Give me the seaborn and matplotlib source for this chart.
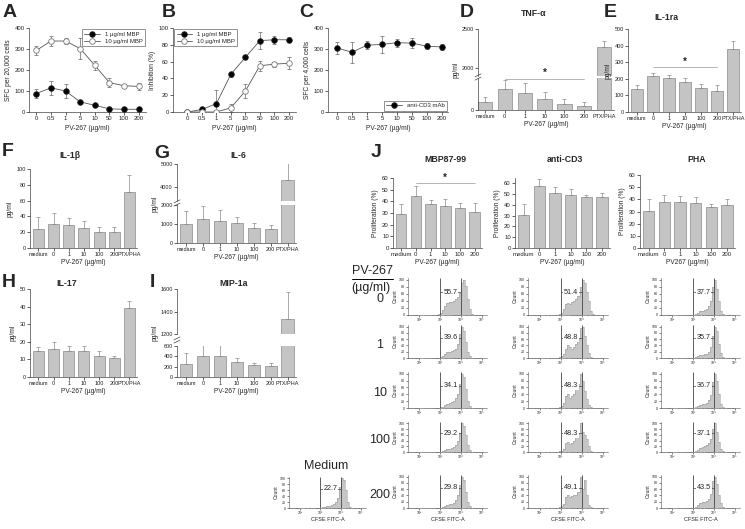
import numpy as np
import matplotlib
matplotlib.use("Agg")
import matplotlib.pyplot as plt
from matplotlib.lines import Line2D
from matplotlib.ticker import FixedLocator, MaxNLocator
import seaborn as sns

# ------------------------------------------------------------------
# data
# ------------------------------------------------------------------
dose_labels = ["0", "0.5", "1", "5", "10", "50", "100", "200"]

# A: ELISPOT, SFC per 20,000 cells
a_mbp1 = [88, 115, 100, 48, 32, 15, 13, 13]
a_mbp1_err = [22, 35, 32, 5, 5, 3, 3, 3]
a_mbp10 = [293, 338, 338, 302, 222, 140, 125, 122]
a_mbp10_err = [22, 25, 15, 50, 22, 20, 5, 15]

# B: inhibition (%)
b_mbp1 = [0, 3, 10, 45, 65, 85, 86, 86]
b_mbp1_err = [0, 2, 16, 3, 2, 10, 5, 3]
b_mbp10 = [0, 0, 0, 5, 25, 55, 57, 58]
b_mbp10_err = [0, 0, 0, 5, 8, 6, 3, 7]

# C: anti-CD3, SFC per 4,000 cells
c_cd3 = [305, 285, 318, 322, 330, 328, 313, 310]
c_cd3_err = [30, 50, 20, 40, 20, 25, 15, 15]

cyt_labels = ["medium", "0", "1", "10", "100", "200", "PTX/PHA"]
tnf = [330, 850, 690, 450, 245, 160, 2270]
tnf_err = [200, 370, 410, 280, 200, 170, 80]
il1ra = [140, 215, 205, 180, 145, 125, 380]
il1ra_err = [25, 20, 15, 25, 25, 35, 45]
il1b = [24, 31, 29, 25, 20, 20, 71]
il1b_err = [15, 13, 9, 9, 6, 6, 21]
il6 = [1000, 1260, 1150, 1050, 780, 760, 4300]
il6_err = [700, 700, 590, 320, 250, 200, 800]
il17 = [15, 16, 15, 14.5, 12, 11, 39]
il17_err = [2, 4, 2.5, 3, 3, 1, 4]
mip1a = [260, 400, 400, 290, 230, 220, 1330]
mip1a_err = [200, 250, 220, 70, 50, 50, 240]

prolif_labels = ["medium", "0", "1", "10", "100", "200"]
prolif_mbp = [29.5, 45, 38, 36, 34, 30.5]
prolif_mbp_err = [8, 8, 3.5, 6, 5, 8]
prolif_cd3 = [31, 58, 51, 49.5, 47.5, 47.5]
prolif_cd3_err = [10, 6, 5.5, 5.5, 1.5, 3.5]
prolif_pha = [30.5, 38, 38, 37, 33.5, 35]
prolif_pha_err = [9.5, 5.5, 5, 5, 2.5, 5]

# CFSE histograms: counts per log10 bin (2.9 ... 4.6)
flow_doses = ["0", "1", "10", "100", "200"]
hist_edges = [2.9, 3.0, 3.1, 3.2, 3.3, 3.4, 3.5, 3.6, 3.7, 3.8, 3.9,
              4.0, 4.1, 4.2, 4.3, 4.4, 4.5, 4.6]
hist_mbp_0 = [2, 6, 14, 26, 34, 38, 36, 40, 44, 50, 62, 92, 100, 82, 46, 16, 4]
hist_mbp_1 = [1, 3, 6, 12, 18, 20, 22, 25, 30, 45, 75, 100, 86, 50, 20, 6, 1]
hist_mbp_10 = [1, 2, 4, 8, 12, 15, 18, 20, 28, 40, 70, 100, 90, 55, 20, 5, 1]
hist_mbp_100 = [0, 1, 3, 6, 10, 12, 15, 18, 25, 38, 68, 100, 92, 60, 25, 6, 1]
hist_mbp_200 = [0, 1, 3, 6, 10, 12, 14, 17, 25, 40, 72, 100, 88, 52, 20, 5, 1]
hist_cd3_0 = [2, 6, 16, 30, 35, 32, 38, 40, 45, 55, 80, 100, 90, 65, 40, 10, 2]
hist_cd3_1 = [2, 5, 12, 30, 40, 35, 30, 35, 45, 60, 95, 100, 70, 40, 15, 4, 1]
hist_cd3_10 = [2, 6, 16, 35, 40, 30, 35, 40, 55, 70, 100, 80, 50, 25, 8, 2, 0]
hist_cd3_100 = [2, 5, 12, 30, 35, 28, 30, 40, 55, 65, 100, 70, 60, 45, 20, 5, 1]
hist_cd3_200 = [2, 5, 12, 35, 40, 35, 38, 40, 42, 50, 100, 60, 90, 40, 10, 2, 0]
hist_pha_0 = [0, 1, 3, 6, 10, 12, 14, 18, 25, 40, 80, 100, 75, 40, 12, 3, 0]
hist_pha_1 = [0, 1, 2, 5, 8, 10, 12, 14, 20, 35, 70, 100, 85, 45, 15, 3, 0]
hist_pha_10 = [0, 1, 3, 6, 9, 11, 13, 16, 22, 38, 75, 100, 80, 40, 12, 3, 0]
hist_pha_100 = [0, 1, 3, 8, 14, 18, 20, 24, 30, 45, 80, 100, 70, 35, 10, 2, 0]
hist_pha_200 = [0, 1, 4, 10, 15, 18, 20, 22, 28, 45, 85, 100, 75, 40, 15, 3, 0]
hist_medium = [0, 1, 2, 4, 6, 8, 10, 14, 20, 35, 70, 100, 95, 60, 22, 5, 1]

pct_mbp = ["55.7", "39.6", "34.1", "29.2", "29.8"]
pct_cd3 = ["51.4", "48.8", "48.3", "48.3", "49.1"]
pct_pha = ["37.7", "35.7", "36.7", "37.1", "43.5"]
pct_medium = "22.7"

# ------------------------------------------------------------------
# figure helpers (layout in reference pixels)
# ------------------------------------------------------------------
W, H = 745, 529
BAR = "#c4c4c4"
EDGE = "#8a8a8a"
AX = "#444444"
TICK = 4.3

sns.set_theme(style="ticks")
plt.rcParams["font.family"] = ["Liberation Sans", "DejaVu Sans"]

fig = plt.figure(figsize=(W / 100, H / 100), dpi=100)


def px_ax(x0, y0, x1, y1):
    return fig.add_axes([x0 / W, 1 - y1 / H, (x1 - x0) / W, (y1 - y0) / H])


def ftext(x, y, s, **kw):
    fig.text(x / W, 1 - y / H, s, **kw)


def style(ax, size=TICK):
    sns.despine(ax=ax)
    for sp in ("left", "bottom"):
        ax.spines[sp].set_linewidth(0.5)
        ax.spines[sp].set_color(AX)
    ax.tick_params(labelsize=size, length=2, width=0.5, pad=1, colors="#222222")
    ax.set_facecolor("none")


def line_panel(box, series, ylim, yticks, ylabel, loc, xlim):
    ax = px_ax(*box)
    idx = np.arange(len(dose_labels))
    for vals, errs, filled, label in series:
        ax.errorbar(idx, vals, yerr=errs, fmt="none", ecolor="#666666",
                    elinewidth=0.5, capsize=1.5, capthick=0.5, zorder=1)
        sns.lineplot(x=idx, y=vals, ax=ax, color="#555555", lw=0.6, marker="o",
                     markersize=4, markeredgewidth=0.6,
                     markerfacecolor="black" if filled else "white",
                     markeredgecolor="#222222" if filled else "#777777",
                     label=label, zorder=3)
    ax.set_xlim(*xlim)
    ax.set_ylim(*ylim)
    ax.set_yticks(yticks)
    ax.set_xticks(idx)
    ax.set_xticklabels(dose_labels)
    style(ax)
    ax.set_ylabel(ylabel, fontsize=4.8, labelpad=2)
    ax.set_xlabel("PV-267 (µg/ml)", fontsize=4.8, labelpad=3)
    ax.legend(loc=loc, fontsize=4.3, frameon=True, fancybox=False, edgecolor="#666666",
              framealpha=1, handlelength=2.6, borderpad=0.4, labelspacing=0.3,
              borderaxespad=0.2).get_frame().set_linewidth(0.5)
    return ax


def draw_bars(ax, labels, vals, errs):
    sns.barplot(x=labels, y=vals, ax=ax, color=BAR, edgecolor=EDGE, linewidth=0.5,
                width=0.72, saturation=1, errorbar=None)
    n = len(vals)
    ax.errorbar(np.arange(n), vals, yerr=[np.zeros(n), errs], fmt="none", ecolor=EDGE,
                elinewidth=0.5, capsize=1.2, capthick=0.5)


def bar_panel(box, labels, vals, errs, ylim, yticks, xlabel="PV-267 (µg/ml)"):
    ax = px_ax(*box)
    draw_bars(ax, labels, vals, errs)
    ax.set_xlim(-0.55, len(vals) - 0.5)
    ax.set_ylim(*ylim)
    ax.set_yticks(yticks)
    style(ax, 4.0 if len(vals) == 7 else TICK)
    ax.set_xlabel(xlabel, fontsize=4.8, labelpad=1.5)
    ax.set_ylabel("pg/ml", fontsize=4.8, labelpad=2)
    return ax


def broken_panel(x0, x1, hi_box, lo_box, hi_lim, lo_lim, hi_ticks, lo_ticks,
                 labels, vals, errs, xlim=(-0.55, 6.5)):
    ax_hi = px_ax(x0, hi_box[0], x1, hi_box[1])
    ax_lo = px_ax(x0, lo_box[0], x1, lo_box[1])
    for ax, lim, ticks in ((ax_hi, hi_lim, hi_ticks), (ax_lo, lo_lim, lo_ticks)):
        draw_bars(ax, labels, vals, errs)
        ax.set_xlim(*xlim)
        ax.set_ylim(*lim)
        ax.set_yticks(ticks)
        style(ax, 4.0)
    ax_hi.spines["bottom"].set_visible(False)
    ax_hi.tick_params(axis="x", bottom=False, labelbottom=False)
    ax_lo.set_xlabel("PV-267 (µg/ml)", fontsize=4.8, labelpad=1.5)
    # y label centred on the whole broken axis
    ymid = (hi_box[0] + lo_box[1]) / 2
    ftext(x0 - 22, ymid, "pg/ml", fontsize=4.8, rotation=90, ha="center", va="center")
    # break marks on the y axis
    yb = (hi_box[1] + lo_box[0]) / 2
    for dy in (-1.6, 1.6):
        fig.add_artist(Line2D([(x0 - 3) / W, (x0 + 3) / W],
                              [1 - (yb + dy + 1.5) / H, 1 - (yb + dy - 1.5) / H],
                              color=AX, lw=0.5))
    return ax_hi, ax_lo


def sig_bar(ax, y, x_from=1, x_to=5):
    ax.plot([x_from, x_to], [y, y], color="#999999", lw=0.5, clip_on=False)
    ax.annotate("*", xy=((x_from + x_to) / 2, y), xytext=(0, 0.5), textcoords="offset points",
                ha="center", va="bottom", fontsize=7, fontweight="bold", annotation_clip=False)


def letter(x, y, s):
    ftext(x, y, s, fontsize=14, fontweight="bold", va="top", ha="left")


def title(x, y, s):
    ftext(x, y, s, fontsize=6.3, fontweight="bold", va="center", ha="center")


# ------------------------------------------------------------------
# A, B, C
# ------------------------------------------------------------------
letter(3, 4, "A")
line_panel((29, 28, 146, 112),
           [(a_mbp1, a_mbp1_err, True, "1 µg/ml MBP"),
            (a_mbp10, a_mbp10_err, False, "10 µg/ml MBP")],
           (0, 400), [0, 100, 200, 300, 400], "SFC per 20,000 cells", "upper right",
           (-0.5, 7.5))

letter(162, 4, "B")
line_panel((173, 28, 296, 112),
           [(b_mbp1, b_mbp1_err, True, "1 µg/ml MBP"),
            (b_mbp10, b_mbp10_err, False, "10 µg/ml MBP")],
           (0, 100), [0, 20, 40, 60, 80, 100], "Inhibition (%)", "upper left",
           (-1, 7.5))

letter(299, 4, "C")
line_panel((328, 28, 448, 112),
           [(c_cd3, c_cd3_err, True, "anti-CD3 mAb")],
           (0, 400), [0, 100, 200, 300, 400], "SFC per 4,000 cells", "lower right",
           (-0.6, 7.4))

# ------------------------------------------------------------------
# D, E (cytokines, top row)
# ------------------------------------------------------------------
letter(460, 4, "D")
title(534, 14, "TNF-α")
d_hi, d_lo = broken_panel(478, 614, (29, 76), (78, 110), (1900, 2500), (0, 1300),
                          [2000, 2500], [0], cyt_labels, tnf, tnf_err, xlim=(-0.35, 6.5))
sig_bar(d_lo, 1265)

letter(604, 4, "E")
title(666, 17, "IL-1ra")
e_ax = bar_panel((628, 29, 741, 112), cyt_labels, il1ra, il1ra_err, (0, 500),
                 [0, 100, 200, 300, 400, 500])
sig_bar(e_ax, 270)

# ------------------------------------------------------------------
# F, G, H, I
# ------------------------------------------------------------------
letter(2, 143, "F")
title(70, 156, "IL-1β")
bar_panel((30, 169, 137, 248), cyt_labels, il1b, il1b_err, (0, 100), [0, 20, 40, 60, 80, 100])

letter(154, 145, "G")
title(238, 156, "IL-6")
broken_panel(177, 296, (164, 201), (205, 243), (3400, 5000), (0, 2000),
             [4000, 5000], [0, 1000, 2000], cyt_labels, il6, il6_err)

letter(2, 274, "H")
title(67, 283, "IL-17")
bar_panel((30, 289, 137, 377), cyt_labels, il17, il17_err, (0, 50), [0, 10, 20, 30, 40, 50])

letter(150, 274, "I")
title(234, 283, "MIP-1a")
broken_panel(177, 296, (289, 334), (346, 377), (1200, 1600), (0, 600),
             [1200, 1400, 1600], [0, 200, 400, 600], cyt_labels, mip1a, mip1a_err)

# ------------------------------------------------------------------
# J: proliferation bars
# ------------------------------------------------------------------
letter(371, 144, "J")
title(445, 160, "MBP87-99")
title(565, 160, "anti-CD3")
title(697, 160, "PHA")
j_boxes = [(393, 178, 482, 248), (515, 178, 610, 248), (640, 175, 735, 248)]
j_data = [(prolif_mbp, prolif_mbp_err, (0, 60), "PV-267 (µg/ml)"),
          (prolif_cd3, prolif_cd3_err, (0, 65), "PV-267 (µg/ml)"),
          (prolif_pha, prolif_pha_err, (0, 60), "PV267 (µg/ml)")]
for box, (vals, errs, ylim, xl) in zip(j_boxes, j_data):
    ax = bar_panel(box, prolif_labels, vals, errs, ylim, [0, 10, 20, 30, 40, 50, 60], xlabel=xl)
    ax.set_ylabel("Proliferation (%)", fontsize=4.8, labelpad=2)
    if vals is prolif_mbp:
        sig_bar(ax, 55.5)

# ------------------------------------------------------------------
# CFSE histograms
# ------------------------------------------------------------------
edges = np.array(hist_edges)
minor = [np.log10(k * 10.0 ** d) for d in range(1, 5) for k in range(2, 10)]


def flow_hist(box, counts, pct, bottom):
    ax = px_ax(*box)
    ax.stairs(counts, edges, fill=True, color="#c6c6c6", lw=0)
    ax.stairs(counts, edges, fill=False, color="#a0a0a0", lw=0.4)
    ax.set_xlim(1.45, 5.25)
    ax.set_ylim(0, max(counts) * 1.05)
    ax.set_xticks([2, 3, 4, 5])
    ax.set_xticklabels(["10²", "10³", "10⁴", "10⁵"])
    ax.xaxis.set_minor_locator(FixedLocator(minor))
    ax.yaxis.set_major_locator(MaxNLocator(6))
    ax.tick_params(labelsize=2.6, length=1.5, width=0.4, pad=0.8)
    ax.tick_params(which="minor", length=1, width=0.3)
    sns.despine(ax=ax)
    for sp in ("left", "bottom"):
        ax.spines[sp].set_linewidth(0.4)
        ax.spines[sp].set_color("#555555")
    ax.set_ylabel("Count", fontsize=3.6, labelpad=1)
    ax.set_xlabel("CFSE FITC-A" if bottom else "", fontsize=4, labelpad=1.5)
    trans = ax.get_xaxis_transform()
    ax.vlines([3.0, 4.0], 0, 1, transform=trans, color="#444444", lw=0.6)
    ax.hlines(0.62, 3.0, 4.0, transform=trans, color="#444444", lw=0.5)
    ax.text(3.5, 0.62, pct, transform=trans, ha="center", va="center", fontsize=5.2,
            bbox=dict(facecolor="white", edgecolor="none", pad=0.6))
    ax.set_facecolor("none")


col_x = [(408, 487), (528, 608), (661, 740)]
row_y = [(278, 315), (325, 358), (372, 408), (422, 452), (475, 508)]
flow_cols = [
    ([hist_mbp_0, hist_mbp_1, hist_mbp_10, hist_mbp_100, hist_mbp_200], pct_mbp),
    ([hist_cd3_0, hist_cd3_1, hist_cd3_10, hist_cd3_100, hist_cd3_200], pct_cd3),
    ([hist_pha_0, hist_pha_1, hist_pha_10, hist_pha_100, hist_pha_200], pct_pha),
]
for (x0, x1), (hists, pcts) in zip(col_x, flow_cols):
    for r, ((y0, y1), counts, pct) in enumerate(zip(row_y, hists, pcts)):
        flow_hist((x0, y0, x1, y1), counts, pct, r == len(row_y) - 1)

flow_hist((289, 477, 366, 508), hist_medium, pct_medium, True)
ftext(326, 466, "Medium", fontsize=9, ha="center", va="center")

ftext(352, 271, "PV-267", fontsize=9, ha="left", va="center")
fig.add_artist(Line2D([352 / W, 393 / W], [1 - 279 / H] * 2, color="black", lw=0.7))
ftext(351, 288, "(µg/ml)", fontsize=9, ha="left", va="center")
for (y0, y1), d in zip(row_y, flow_doses):
    ftext(380, (y0 + y1) / 2 + 3, d, fontsize=9, ha="center", va="center")

fig.savefig("out.png", dpi=100)
